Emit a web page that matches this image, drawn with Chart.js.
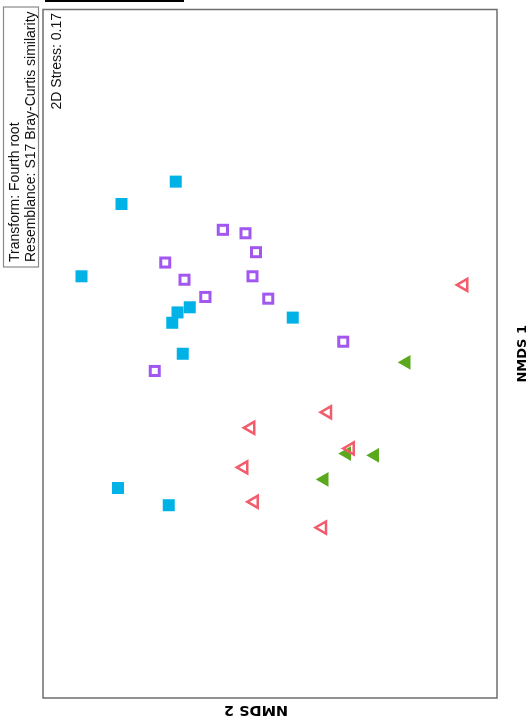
<!DOCTYPE html>
<html>
<head>
<meta charset="utf-8">
<script src="https://cdn.jsdelivr.net/npm/chart.js@4"></script>
<style>
  html, body { margin: 0; padding: 0; background: #fff; overflow: hidden; }
  #wrap {
    position: absolute; left: 0; top: 0;
    width: 719px; height: 530px;
    transform-origin: 0 0;
    transform: translate(0, 719px) rotate(-90deg);
  }
</style>
</head>
<body>
<div id="wrap"><canvas id="chart-canvas" width="719" height="530"></canvas></div>
<script>
// NMDS coordinates per group
const blueX = [1.00, 0.87, 0.45, 0.27, 0.24, 0.18, 0.21, 0.00, -0.78, -0.88];
const blueY = [0.54, 0.85, 1.08, 0.46, 0.53, 0.56, -0.13, 0.50, 0.87, 0.58];
const purpleX = [0.72, 0.70, 0.59, 0.53, 0.45, 0.43, 0.33, 0.32, -0.10, 0.07];
const purpleY = [0.27, 0.14, 0.08, 0.60, 0.10, 0.49, 0.37, 0.01, 0.66, -0.42];
const redX = [0.40, -0.34, -0.43, -0.55, -0.66, -0.86, -1.01];
const redY = [-1.11, -0.33, 0.11, -0.46, 0.15, 0.09, -0.30];
const greenX = [-0.05, -0.58, -0.59, -0.73];
const greenY = [-0.78, -0.44, -0.60, -0.31];

const axisTitles = ['NMDS 1', 'NMDS 2'];
const infoLines = ['Transform: Fourth root', 'Resemblance: S17 Bray-Curtis similarity'];
const stressLabel = '2D Stress: 0.17';

const toPoints = (xs, ys) => xs.map((x, i) => ({ x, y: ys[i] }));

(function(){
  const context = document.querySelector('#chart-canvas').getContext('2d');

  // frame, info box, stress label, y title and the clipped legend box
  const decorations = {
    id: 'decorations',
    afterDraw(chart) {
      const { ctx, chartArea: a } = chart;
      ctx.save();
      ctx.strokeStyle = '#6e6e6e';
      ctx.lineWidth = 1.5;
      ctx.strokeRect(a.left, a.top, a.right - a.left, a.bottom - a.top);

      ctx.strokeStyle = '#8a8a8a';
      ctx.lineWidth = 1.2;
      ctx.strokeRect(452, 3.5, 260, 35);

      ctx.fillStyle = '#111';
      ctx.font = '14px "Liberation Sans", Arial, sans-serif';
      ctx.textBaseline = 'alphabetic';
      ctx.textAlign = 'left';
      ctx.fillText(infoLines[0], 457, 19);
      ctx.fillText(infoLines[1], 457, 35);

      ctx.textAlign = 'right';
      ctx.fillText(stressLabel, 706, 61);

      // y title sits a little above the middle of the frame
      ctx.save();
      ctx.translate(9, 256);
      ctx.rotate(-Math.PI / 2);
      ctx.fillStyle = '#000';
      ctx.font = 'bold 14.5px "DejaVu Sans", Verdana, sans-serif';
      ctx.textAlign = 'center';
      ctx.textBaseline = 'middle';
      ctx.fillText(axisTitles[1], 0, 0);
      ctx.restore();

      ctx.strokeStyle = '#000';
      ctx.lineWidth = 2;
      ctx.strokeRect(718, 46, 40, 137);
      ctx.restore();
    }
  };

  const config = {
    type: 'scatter',
    data: {
      datasets: [
        {
          label: 'Group A',
          data: toPoints(blueX, blueY),
          pointStyle: 'rect',
          pointRadius: 8.5,
          backgroundColor: '#00b2e6',
          borderWidth: 0
        },
        {
          label: 'Group B',
          data: toPoints(purpleX, purpleY),
          pointStyle: 'rect',
          pointRadius: 6.4,
          backgroundColor: '#ffffff',
          borderColor: '#a257f0',
          borderWidth: 3
        },
        {
          label: 'Group C',
          data: toPoints(redX, redY),
          pointStyle: 'triangle',
          pointRadius: 7,
          backgroundColor: 'rgba(255,255,255,0)',
          borderColor: '#f25c6c',
          borderWidth: 2.5
        },
        {
          label: 'Group D',
          data: toPoints(greenX, greenY),
          pointStyle: 'triangle',
          pointRadius: 8.5,
          backgroundColor: '#5aa81c',
          borderWidth: 0
        }
      ]
    },
    options: {
      responsive: false,
      animation: false,
      devicePixelRatio: 1,
      events: [],
      layout: { padding: { top: 43, right: 7, left: 0, bottom: 0 } },
      plugins: { legend: { display: false }, tooltip: { enabled: false } },
      scales: {
        x: {
          min: -2, max: 2,
          ticks: { display: false },
          grid: { display: false },
          border: { display: false },
          afterFit: (s) => { s.height = 33; },
          title: {
            display: true, text: axisTitles[0], color: '#000',
            padding: 0,
            font: { family: '"DejaVu Sans", Verdana, sans-serif', size: 13, weight: 'bold', lineHeight: 1.2 }
          }
        },
        y: {
          min: -1.3, max: 1.3,
          ticks: { display: false },
          grid: { display: false },
          border: { display: false },
          afterFit: (s) => { s.width = 21; },
          title: { display: false }
        }
      }
    },
    plugins: [decorations]
  };

  new Chart(context, config);
})();
</script>
</body>
</html>
